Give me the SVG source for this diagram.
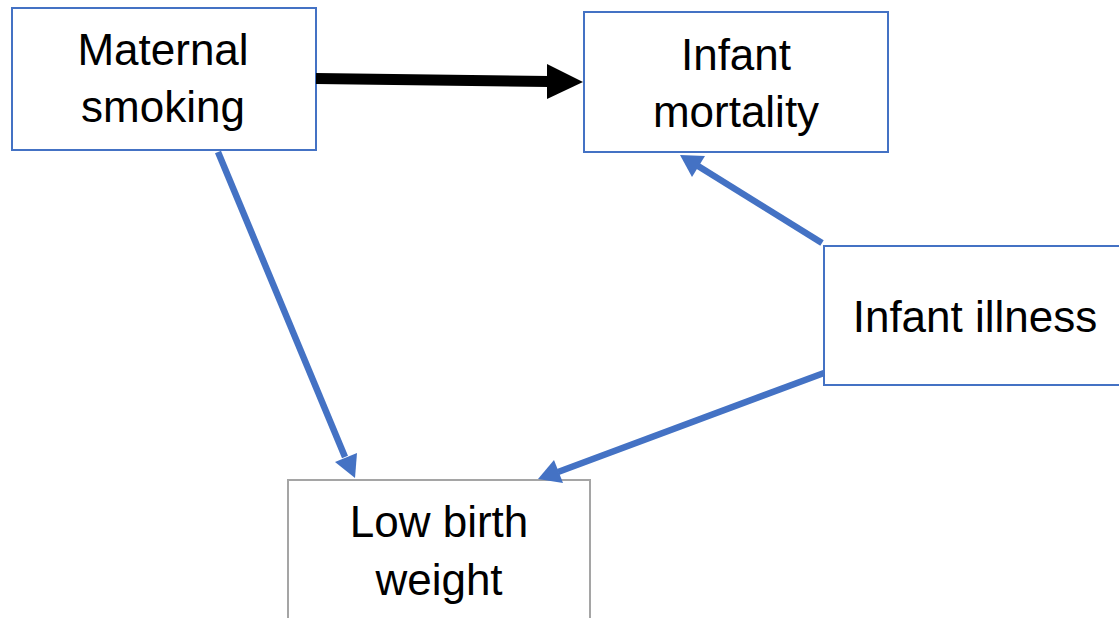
<svg xmlns="http://www.w3.org/2000/svg" width="1119" height="618" viewBox="0 0 1119 618">
  <style>
    .box { fill: #ffffff; stroke: #4472c4; stroke-width: 2; }
    .box.grey { stroke: #a5a5a5; }
    .label { font-family: "Liberation Sans", Arial, sans-serif; font-size: 44px; fill: #000000; text-anchor: middle; }
    .link { stroke: #4472c4; stroke-width: 6.5; fill: none; }
    .head { fill: #4472c4; }
  </style>
  <rect width="1119" height="618" fill="#ffffff"/>

  <g id="node-maternal-smoking">
    <rect class="box" x="12" y="8" width="304" height="142"/>
    <text class="label" x="163" y="65">Maternal</text>
    <text class="label" x="163" y="122">smoking</text>
  </g>

  <g id="node-infant-mortality">
    <rect class="box" x="584" y="12" width="304" height="140"/>
    <text class="label" x="736" y="70">Infant</text>
    <text class="label" x="736" y="127">mortality</text>
  </g>

  <g id="node-infant-illness">
    <rect class="box" x="824" y="246" width="300" height="139"/>
    <text class="label" x="975" y="332">Infant illness</text>
  </g>

  <g id="node-low-birth-weight">
    <rect class="box grey" x="288" y="480" width="302" height="150"/>
    <text class="label" x="439" y="537">Low birth</text>
    <text class="label" x="439" y="595">weight</text>
  </g>

  <g id="connectors">
    <!-- smoking -> mortality (thick black) -->
    <line x1="316" y1="78.5" x2="549" y2="81.5" stroke="#000000" stroke-width="11"/>
    <polygon points="547,64 583,82 547,99" fill="#000000"/>

    <!-- smoking -> low birth weight -->
    <line class="link" x1="218" y1="152" x2="345" y2="457"/>
    <polygon class="head" points="355,478 335,462 357,453"/>

    <!-- illness -> mortality -->
    <line class="link" x1="822" y1="243" x2="698" y2="166"/>
    <polygon class="head" points="680,155 705,156 692,177"/>

    <!-- illness -> low birth weight -->
    <line class="link" x1="824" y1="373" x2="558" y2="472"/>
    <polygon class="head" points="538,479 554,460 563,483"/>
  </g>
</svg>
